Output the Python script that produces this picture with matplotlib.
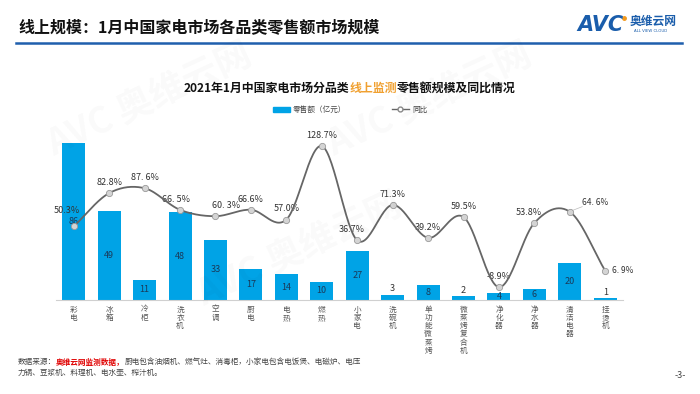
import numpy as np
import matplotlib
matplotlib.use('Agg')
import matplotlib.pyplot as plt
from matplotlib.lines import Line2D
from matplotlib.patches import Patch

plt.rcParams['font.family'] = ['Noto Sans CJK SC', 'DejaVu Sans']

categories = ['彩电', '冰箱', '冷柜', '洗衣机', '空调', '厨电', '电热', '燃热', '小家电',
              '洗碗机', '单功能微蒸烤', '微蒸烤复合机', '净化器', '净水器', '清洁电器', '挂烫机']
sales = [86, 49, 11, 48, 33, 17, 14, 10, 27, 3, 8, 2, 4, 6, 20, 1]
yoy = [50.3, 82.8, 87.6, 66.5, 60.3, 66.6, 57.0, 128.7, 36.7, 71.3, 39.2, 59.5, -8.9, 53.8, 64.6, 6.9]
yoy_labels = ['50.3%', '82.8%', '87. 6%', '66. 5%', '60. 3%', '66.6%', '57.0%', '128.7%', '36.7%',
              '71.3%', '39.2%', '59.5%', '-8.9%', '53.8%', '64. 6%', '6. 9%']

BLUE = '#00A3E6'
W, H = 700, 394
fig = plt.figure(figsize=(7, 3.94), dpi=100)

def fx(px):
    return px / W

def fy(py):
    return 1 - py / H

# page header
fig.text(fx(18), fy(27), '线上规模：1月中国家电市场各品类零售额市场规模', fontsize=11.5,
         fontweight='bold', color='#111111', va='center', ha='left')
fig.add_artist(Line2D([fx(16), fx(682)], [fy(43), fy(43)], color='#1F5FAD', lw=1.8))
fig.text(fx(577), fy(25), 'AVC', fontsize=15, fontweight='bold', style='italic',
         color='#1A5DAB', va='center', ha='left', family='DejaVu Sans')
fig.add_artist(Line2D([fx(624)], [fy(18)], marker='o', ms=2.5, color='#F39A1E', lw=0))
fig.text(fx(630), fy(21), '奥维云网', fontsize=8.5, fontweight='bold', color='#1A5DAB',
         va='center', ha='left')
fig.text(fx(634), fy(31), 'ALL VIEW CLOUD', fontsize=2.8, color='#1A5DAB', va='center', ha='left',
         family='DejaVu Sans')

# faint watermarks
for (wx, wy) in [(150, 100), (430, 100), (300, 250)]:
    fig.text(fx(wx), fy(wy), 'AVC 奥维云网', fontsize=26, fontweight='bold', color='#000000',
             alpha=0.025, rotation=25, ha='center', va='center')

# chart title with coloured part
fig.canvas.draw()
r = fig.canvas.get_renderer()
full = '2021年1月中国家电市场分品类线上监测零售额规模及同比情况'
tmp = fig.text(0, 0, full, fontsize=8.6, fontweight='bold')
wfull = tmp.get_window_extent(r).width
tmp.remove()
xc = 350 - wfull / 2
parts = [('2021年1月中国家电市场分品类', '#111111'), ('线上监测', '#F0A030'), ('零售额规模及同比情况', '#111111')]
for txt, col in parts:
    t = fig.text(fx(xc), fy(88), txt, fontsize=8.6, fontweight='bold', color=col, va='center', ha='left')
    xc += t.get_window_extent(r).width

# axes
ax = fig.add_axes([fx(56), fy(300), fx(623 - 56), (300 - 130) / H])
x = np.arange(len(categories))
ax.bar(x, sales, width=0.65, color=BLUE, zorder=2)
ax.set_xlim(-0.5, len(categories) - 0.5)
ax.set_ylim(0, 86 * 170 / 157)
for s in ['top', 'left', 'right']:
    ax.spines[s].set_visible(False)
ax.spines['bottom'].set_color('#D0D0D0')
ax.spines['bottom'].set_linewidth(0.8)
ax.set_yticks([])
ax.set_xticks(x)
ax.set_xticklabels(['\n'.join(c) for c in categories], fontsize=5.5, color='#555555',
                   linespacing=1.05, va='top')
ax.tick_params(axis='x', length=0, pad=4)
for xi, v in zip(x, sales):
    if v >= 4:
        ax.text(xi, v / 2, str(v), ha='center', va='center', fontsize=6.5, color='#1a3a5a', zorder=3)
    else:
        ax.text(xi, v + 0.6, str(v), ha='center', va='bottom', fontsize=6.5, color='#333333', zorder=3)

ax2 = ax.twinx()
ax2.set_ylim(-22 / 1.025, 170 / 1.025 - 22 / 1.025)
ax2.axis('off')

# smooth line (Catmull-Rom through the data points in screen-like units)
sx = 35.4
sy = 1.025
P = np.column_stack([x * sx, np.array(yoy) * sy])
P = np.vstack([P[0] - (P[1] - P[0]), P, P[-1] + (P[-1] - P[-2])])
curve = []
for i in range(1, len(P) - 2):
    p0, p1, p2, p3 = P[i - 1], P[i], P[i + 1], P[i + 2]
    t = np.linspace(0, 1, 30)[:, None]
    seg = 0.5 * ((2 * p1) + (-p0 + p2) * t + (2 * p0 - 5 * p1 + 4 * p2 - p3) * t ** 2 +
                 (-p0 + 3 * p1 - 3 * p2 + p3) * t ** 3)
    curve.append(seg)
curve = np.vstack(curve)
ax2.plot(curve[:, 0] / sx, curve[:, 1] / sy, color='#666666', lw=1.3, zorder=4)
ax2.plot(x, yoy, 'o', ms=4.5, mfc='#D4D4D4', mec='#9A9A9A', mew=0.6, zorder=5)

offsets = {0: (-4, 9), 3: (-2, 5), 4: (6, 5), 8: (-3, 5), 12: (0, 5), 13: (-3, 5)}
for i, (v, lab) in enumerate(zip(yoy, yoy_labels)):
    if i == 14:
        ax2.plot([i + 0.05, i + 0.35], [v + 1, v + 5], color='#BBBBBB', lw=0.5, zorder=3)
        ax2.text(i + 0.35, v + 5, lab, fontsize=6, color='#333333', ha='left', va='bottom')
        continue
    if i == 15:
        ax2.text(i + 0.2, v, lab, fontsize=6, color='#333333', ha='left', va='center')
        continue
    dx, dy = offsets.get(i, (0, 5))
    ax2.text(i + dx * 0.05, v + dy * 1.2, lab, fontsize=6.5, color='#333333', ha='center', va='bottom')

# legend
handles = [Patch(color=BLUE), Line2D([0], [0], color='#666666', lw=1, marker='o', ms=3.5,
                                      mfc='white', mec='#888888')]
fig.legend(handles, ['零售额（亿元）', '同比'], loc='center', bbox_to_anchor=(fx(350), fy(110)),
           ncol=2, frameon=False, fontsize=5.5, columnspacing=6, handlelength=2.2,
           handleheight=0.7, handletextpad=0.4, labelcolor='#444444')

# footer
fs = 5.5
xc = 18
for txt, col, wt in [('数据来源：', '#444444', 'normal'), ('奥维云网监测数据，', '#E00000', 'bold'),
                     ('厨电包含油烟机、燃气灶、消毒柜，小家电包含电饭煲、电磁炉、电压', '#444444', 'normal')]:
    t = fig.text(fx(xc), fy(362), txt, fontsize=fs, color=col, fontweight=wt, va='center', ha='left')
    xc += t.get_window_extent(r).width
fig.text(fx(18), fy(373), '力锅、豆浆机、料理机、电水壶、榨汁机。', fontsize=fs, color='#444444',
         va='center', ha='left')
fig.text(fx(680), fy(376), '-3-', fontsize=6.5, color='#444444', va='center', ha='center')

fig.savefig('out.png', dpi=100)
